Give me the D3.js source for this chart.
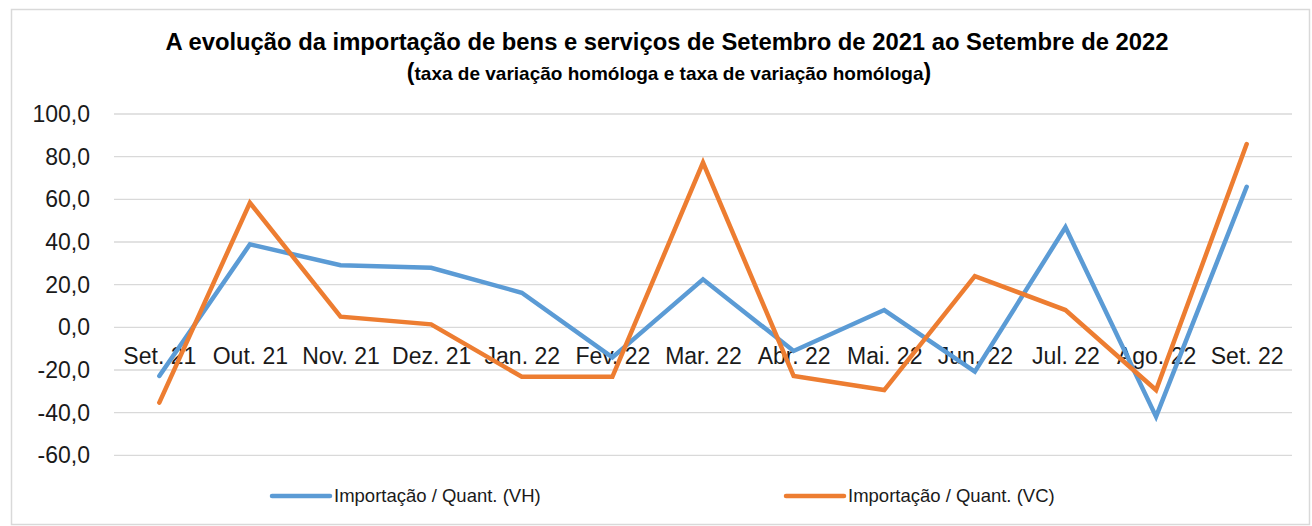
<!DOCTYPE html>
<html>
<head>
<meta charset="utf-8">
<script src="https://cdn.jsdelivr.net/npm/d3@7"></script>
<style>
  html, body { margin: 0; padding: 0; background: #fff; }
  svg { display: block; font-family: "Liberation Sans", Arial, sans-serif; }
</style>
</head>
<body>
<div id="chart"></div>
<script>
// Dados
const meses = ['Set. 21', 'Out. 21', 'Nov. 21', 'Dez. 21', 'Jan. 22', 'Fev. 22', 'Mar. 22',
               'Abr. 22', 'Mai. 22', 'Jun. 22', 'Jul. 22', 'Ago. 22', 'Set. 22'];
const quantVH = [-22.8, 38.9, 29.1, 27.9, 16.2, -14.1, 22.5, -11.1, 8.1, -20.8, 46.9, -41.9, 65.9];
const quantVC = [-35.3, 58.4, 5.0, 1.4, -23.2, -23.2, 77.2, -22.8, -29.4, 24.0, 8.1, -29.4, 85.9];
const yTicks = [-60, -40, -20, 0, 20, 40, 60, 80, 100];

const seriesNames = ['Importação / Quant. (VH)', 'Importação / Quant. (VC)'];
const colors = ['#5B9BD5', '#ED7D31'];

const W = 1312, H = 526;
const plot = { left: 114, right: 1292, top: 114, bottom: 455.3 };

const svg = d3.select('#chart').append('svg')
    .attr('width', W)
    .attr('height', H);

// moldura
svg.append('rect')
    .attr('x', 11.5).attr('y', 9.5)
    .attr('width', 1298).attr('height', 515)
    .attr('fill', '#fff')
    .attr('stroke', '#d9d9d9')
    .attr('stroke-width', 1.5);

// Escalas
const x = d3.scalePoint()
    .domain(meses)
    .range([plot.left, plot.right])
    .padding(0.5);

const y = d3.scaleLinear()
    .domain([-60, 100])
    .range([plot.bottom, plot.top]);

// Grelha
svg.append('g').attr('class', 'grid')
    .selectAll('line')
    .data(yTicks)
    .enter().append('line')
    .attr('x1', plot.left)
    .attr('x2', plot.right)
    .attr('y1', d => y(d))
    .attr('y2', d => y(d))
    .attr('stroke', '#d9d9d9')
    .attr('stroke-width', 1.3);

// Eixo Y
const fmt = d => d3.format('.1f')(d).replace('.', ',').replace('−', '-');
const yAxis = svg.append('g')
    .attr('transform', `translate(${plot.left}, 0)`)
    .call(d3.axisLeft(y).tickValues(yTicks).tickFormat(fmt).tickSize(0).tickPadding(24));
yAxis.select('.domain').remove();
yAxis.selectAll('text')
    .attr('font-size', 23)
    .attr('font-family', '"Liberation Sans", Arial, sans-serif')
    .attr('fill', '#1a1a1a');

// Eixo X (cruza no zero)
const xAxis = svg.append('g')
    .attr('transform', `translate(0, ${y(0)})`)
    .call(d3.axisBottom(x).tickSize(0).tickPadding(20));
xAxis.select('.domain').remove();
xAxis.selectAll('text')
    .attr('font-size', 23)
    .attr('font-family', '"Liberation Sans", Arial, sans-serif')
    .attr('fill', '#1a1a1a');

// Linhas
const line = d3.line()
    .x((d, i) => x(meses[i]))
    .y(d => y(d));

[quantVH, quantVC].forEach((serie, k) => {
    svg.append('path')
        .datum(serie)
        .attr('d', line)
        .attr('fill', 'none')
        .attr('stroke', colors[k])
        .attr('stroke-width', 4.5)
        .attr('stroke-linejoin', 'miter')
        .attr('stroke-linecap', 'round');
});

// Título
svg.append('text')
    .attr('x', 667)
    .attr('y', 50)
    .attr('text-anchor', 'middle')
    .attr('font-size', 23.8)
    .attr('font-weight', 'bold')
    .attr('fill', '#000')
    .text('A evolução da importação de bens e serviços de Setembro de 2021 ao Setembre de 2022');

const sub = svg.append('text')
    .attr('x', 669)
    .attr('y', 80)
    .attr('text-anchor', 'middle')
    .attr('font-weight', 'bold')
    .attr('fill', '#000');
sub.append('tspan').attr('font-size', 23).text('(');
sub.append('tspan').attr('font-size', 19).text('taxa de variação homóloga e taxa de variação homóloga');
sub.append('tspan').attr('font-size', 23).text(')');

// Legenda
const legendX = [272, 786];
seriesNames.forEach((name, k) => {
    const g = svg.append('g').attr('transform', `translate(${legendX[k]}, 496)`);
    g.append('line')
        .attr('x1', 0).attr('x2', 58)
        .attr('y1', 0).attr('y2', 0)
        .attr('stroke', colors[k])
        .attr('stroke-width', 4.5)
        .attr('stroke-linecap', 'round');
    g.append('text')
        .attr('x', 62)
        .attr('y', 0)
        .attr('dy', '0.35em')
        .attr('font-size', 18.5)
        .attr('fill', '#1a1a1a')
        .text(name);
});
</script>
</body>
</html>
